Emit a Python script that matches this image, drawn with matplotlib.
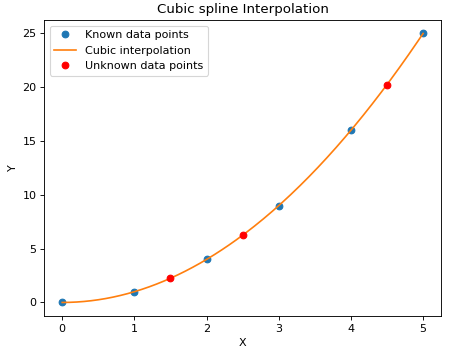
import numpy as np
import matplotlib
matplotlib.use("Agg")
import matplotlib.pyplot as plt

# known samples
x_known = [0, 1, 2, 3, 4, 5]
y_known = [0, 1, 4, 9, 16, 25]

# points evaluated on the spline
x_unknown = [1.5, 2.5, 4.5]
y_unknown = [2.25, 6.25, 20.25]


def cubic_spline(x, y, xs):
    # not-a-knot cubic spline, small dense solve
    try:
        from scipy.interpolate import CubicSpline
        return CubicSpline(x, y)(xs)
    except ImportError:
        x = np.asarray(x, float)
        y = np.asarray(y, float)
        n = len(x)
        h = np.diff(x)
        A = np.zeros((n, n))
        b = np.zeros(n)
        for i in range(1, n - 1):
            A[i, i - 1] = h[i - 1]
            A[i, i] = 2 * (h[i - 1] + h[i])
            A[i, i + 1] = h[i]
            b[i] = 6 * ((y[i + 1] - y[i]) / h[i] - (y[i] - y[i - 1]) / h[i - 1])
        A[0, 0], A[0, 1], A[0, 2] = h[1], -(h[0] + h[1]), h[0]
        A[-1, -3], A[-1, -2], A[-1, -1] = h[-1], -(h[-2] + h[-1]), h[-2]
        M = np.linalg.solve(A, b)
        xs = np.asarray(xs, float)
        k = np.clip(np.searchsorted(x, xs) - 1, 0, n - 2)
        t0 = x[k + 1] - xs
        t1 = xs - x[k]
        hk = h[k]
        return (M[k] * t0**3 / (6 * hk) + M[k + 1] * t1**3 / (6 * hk)
                + (y[k] / hk - M[k] * hk / 6) * t0
                + (y[k + 1] / hk - M[k + 1] * hk / 6) * t1)


x_line = np.linspace(min(x_known), max(x_known), 200)
y_line = cubic_spline(x_known, y_known, x_line)

# reference looks like a bigger figure shrunk down, so use a lower dpi
dpi = 80
fig, ax = plt.subplots(figsize=(460 / dpi, 351 / dpi), dpi=dpi)
fig.subplots_adjust(left=0.096, right=0.959, top=0.943, bottom=0.1)

ax.plot(x_known, y_known, 'o', label='Known data points')
ax.plot(x_line, y_line, label='Cubic interpolation')
ax.plot(x_unknown, y_unknown, 'o', color='red', label='Unknown data points')

ax.set_title('Cubic spline Interpolation')
ax.set_xlabel('X')
ax.set_ylabel('Y')
ax.legend(loc='upper left')

fig.savefig('out.png')
